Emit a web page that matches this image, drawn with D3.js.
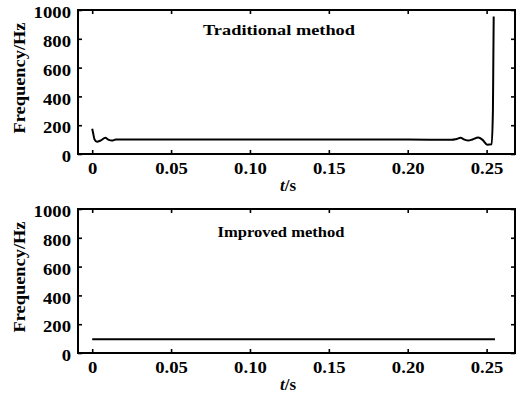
<!DOCTYPE html>
<html>
<head>
<meta charset="utf-8">
<script src="https://cdn.jsdelivr.net/npm/d3@7"></script>
<style>
  body { margin: 0; background: #fff; }
  svg text { font-family: "Liberation Serif", "Times New Roman", serif; font-weight: bold; fill: #000; }
  .axis path, .axis line { stroke: #000; stroke-width: 1.6; }
</style>
</head>
<body>
<div id="chart"></div>
<script>
// traditional method: frequency response vs time
const tradTime = [0, 0.0005, 0.0015, 0.003, 0.0055, 0.0083, 0.0105, 0.0125, 0.015, 0.05, 0.10, 0.15, 0.20, 0.228, 0.2305, 0.2335, 0.236, 0.2384, 0.241, 0.2447, 0.2475, 0.2504, 0.2532, 0.2540, 0.2543, 0.2545];
const tradFreq = [175, 150, 100, 85, 95, 112, 98, 93, 100, 100, 100, 100, 100, 99, 103, 112, 100, 93, 101, 115, 98, 65, 68, 300, 700, 955];

// improved method
const impTime = [0, 0.05, 0.10, 0.15, 0.20, 0.2553];
const impFreq = [95, 95, 95, 95, 95, 95];

const xTicks = [0, 0.05, 0.10, 0.15, 0.20, 0.25];
const xTickLabels = ["0", "0.05", "0.10", "0.15", "0.20", "0.25"];
const yTicks = [0, 200, 400, 600, 800, 1000];

const panels = [
  { title: "Traditional method", time: tradTime, freq: tradFreq, top: 10, titleX: 279, titleY: 35, titleLen: 152 },
  { title: "Improved method", time: impTime, freq: impFreq, top: 209, titleX: 281, titleY: 237, titleLen: 127 }
];

const width = 519, height = 397;
const left = 78, right = 515, plotH = 144;

const svg = d3.select("#chart").append("svg")
  .attr("width", width)
  .attr("height", height);

const x = d3.scaleLinear().domain([-0.009, 0.268]).range([left, right]);

// widen glyphs a little, the source figure is stretched horizontally
function stretch(sel, k) {
  sel.each(function() {
    const w = this.getComputedTextLength();
    d3.select(this).attr("textLength", w * k).attr("lengthAdjust", "spacingAndGlyphs");
  });
}

panels.forEach(p => {
  const y = d3.scaleLinear().domain([0, 1000]).range([p.top + plotH, p.top]);
  const g = svg.append("g");

  // inward ticks on all four sides
  g.append("g").attr("class", "axis")
    .attr("transform", `translate(0, ${p.top + plotH})`)
    .call(d3.axisBottom(x).tickValues(xTicks).tickSize(-4).tickSizeOuter(0).tickPadding(8)
      .tickFormat((d, i) => xTickLabels[i]))
    .selectAll("text").style("font-size", "17px").call(stretch, 1.1);

  g.append("g").attr("class", "axis")
    .attr("transform", `translate(0, ${p.top})`)
    .call(d3.axisTop(x).tickValues(xTicks).tickSize(-4).tickSizeOuter(0).tickFormat(""));

  g.append("g").attr("class", "axis")
    .attr("transform", `translate(${left}, 0)`)
    .call(d3.axisLeft(y).tickValues(yTicks).tickSize(-4).tickSizeOuter(0).tickPadding(7)
      .tickFormat(d3.format("d")))
    .selectAll("text").style("font-size", "17px").attr("dy", "0.45em").call(stretch, 1.1);

  g.append("g").attr("class", "axis")
    .attr("transform", `translate(${right}, 0)`)
    .call(d3.axisRight(y).tickValues(yTicks).tickSize(-4).tickSizeOuter(0).tickFormat(""));

  g.selectAll(".axis .domain").remove();

  g.append("rect")
    .attr("x", left).attr("y", p.top)
    .attr("width", right - left).attr("height", plotH)
    .attr("fill", "none").attr("stroke", "#000").attr("stroke-width", 2);

  const line = d3.line()
    .x((d, i) => x(p.time[i]))
    .y(d => y(d))
    .curve(d3.curveMonotoneX);

  g.append("path")
    .datum(p.freq)
    .attr("d", line)
    .attr("fill", "none")
    .attr("stroke", "#000")
    .attr("stroke-width", 2);

  g.append("text")
    .attr("x", p.titleX).attr("y", p.titleY)
    .attr("text-anchor", "middle")
    .style("font-size", "15px")
    .attr("textLength", p.titleLen).attr("lengthAdjust", "spacingAndGlyphs")
    .text(p.title);

  g.append("text")
    .attr("transform", `translate(25, ${p.top + plotH / 2 - 4}) rotate(-90)`)
    .attr("text-anchor", "middle")
    .style("font-size", "16px")
    .attr("textLength", 111).attr("lengthAdjust", "spacingAndGlyphs")
    .text("Frequency/Hz");

  const xl = g.append("text")
    .attr("x", 288).attr("y", p.top + plotH + 37)
    .attr("text-anchor", "middle")
    .style("font-size", "17px");
  xl.append("tspan").style("font-style", "italic").text("t");
  xl.append("tspan").text("/s");
});
</script>
</body>
</html>
